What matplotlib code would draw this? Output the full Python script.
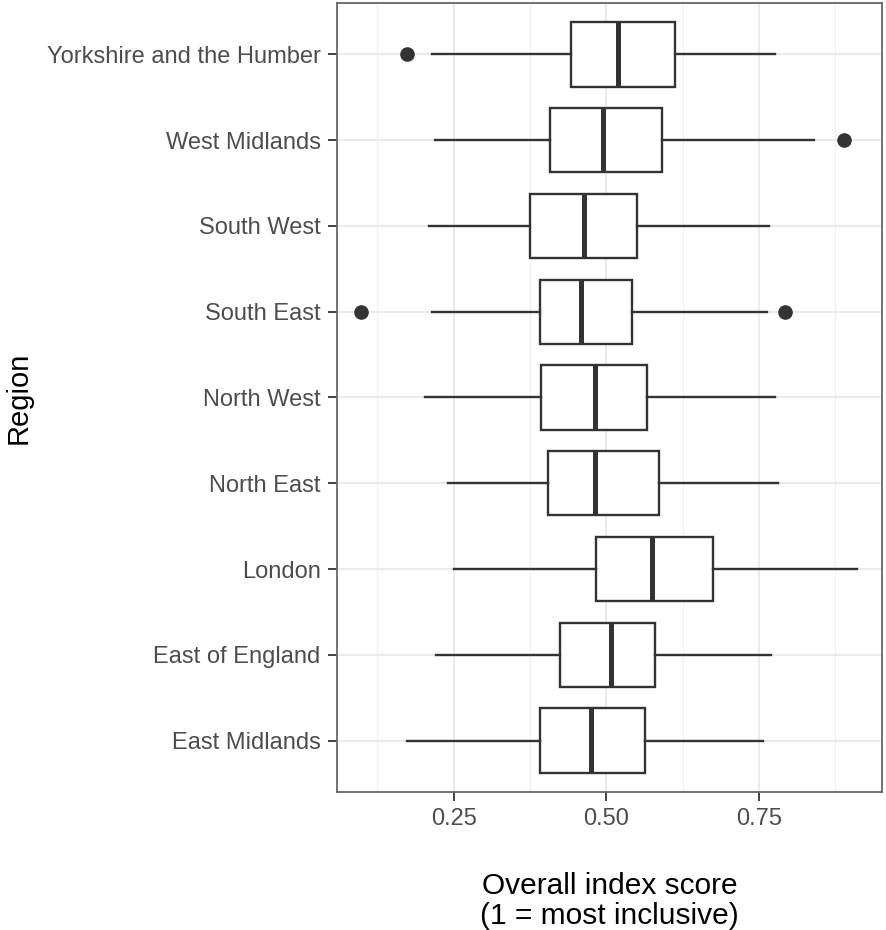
import matplotlib
matplotlib.use("Agg")
import matplotlib.pyplot as plt
from matplotlib.ticker import FixedLocator

plt.rcParams['font.family'] = ['Liberation Sans', 'DejaVu Sans']

# Regions, bottom to top
regions = ["East Midlands", "East of England", "London", "North East",
           "North West", "South East", "South West", "West Midlands",
           "Yorkshire and the Humber"]

# Five-number summaries of the overall index score per region
whisker_low = [0.173, 0.221, 0.250, 0.240, 0.203, 0.215, 0.210, 0.219, 0.214]
q1          = [0.391, 0.424, 0.483, 0.405, 0.393, 0.391, 0.375, 0.407, 0.443]
median      = [0.475, 0.508, 0.575, 0.482, 0.481, 0.459, 0.463, 0.495, 0.519]
q3          = [0.564, 0.580, 0.675, 0.587, 0.567, 0.542, 0.551, 0.591, 0.613]
whisker_high= [0.756, 0.770, 0.911, 0.781, 0.776, 0.763, 0.767, 0.841, 0.776]
outliers    = [[], [], [], [], [], [0.099, 0.792], [], [0.890], [0.174]]

x_ticks = [0.25, 0.50, 0.75]
x_tick_labels = ["0.25", "0.50", "0.75"]

fig = plt.figure(figsize=(8.86, 9.30), dpi=100)
ax = fig.add_axes([0.380, 0.1484, 0.6155, 0.8484])

stats = []
for i, name in enumerate(regions):
    stats.append(dict(label=name, whislo=whisker_low[i], q1=q1[i], med=median[i],
                      q3=q3[i], whishi=whisker_high[i], fliers=outliers[i]))

dark = "#333333"
positions = list(range(1, len(regions) + 1))
ax.bxp(stats, positions=positions, vert=False, widths=0.75, showcaps=False,
       patch_artist=True,
       boxprops=dict(facecolor="white", edgecolor=dark, linewidth=1.7),
       whiskerprops=dict(color=dark, linewidth=1.7),
       medianprops=dict(color=dark, linewidth=3.6, solid_capstyle="butt"),
       flierprops=dict(marker="o", markerfacecolor=dark, markeredgecolor=dark,
                       markersize=9.5),
       zorder=3)

# Axis ranges with ggplot-style 5% / 0.6 unit expansion
all_vals = whisker_low + whisker_high + [v for o in outliers for v in o]
lo, hi = min(all_vals), max(all_vals)
pad = 0.05 * (hi - lo)
ax.set_xlim(lo - pad, hi + pad)
ax.set_ylim(0.4, len(regions) + 0.6)

ax.xaxis.set_major_locator(FixedLocator(x_ticks))
ax.set_xticklabels(x_tick_labels)
ax.xaxis.set_minor_locator(FixedLocator([0.125, 0.375, 0.625, 0.875]))
ax.set_yticks(positions)
ax.set_yticklabels(regions)

ax.grid(True, which="major", color="#EBEBEB", linewidth=1.5, zorder=0)
ax.grid(True, which="minor", axis="x", color="#F2F2F2", linewidth=0.9, zorder=0)
ax.set_axisbelow(True)

for s in ax.spines.values():
    s.set_color("#666666")
    s.set_linewidth(1.3)

ax.tick_params(axis="both", which="major", length=6.5, width=1.3, color="#333333",
               labelsize=17, labelcolor="#4D4D4D", pad=5)
ax.tick_params(axis="x", which="minor", length=0)

ax.set_ylabel("Region", fontsize=21, color="black", labelpad=10)
ax.set_xlabel("Overall index score\n(1 = most inclusive)", fontsize=21.5,
              color="black", labelpad=30, linespacing=1.1)

fig.savefig("out.png", dpi=100, facecolor="white")
